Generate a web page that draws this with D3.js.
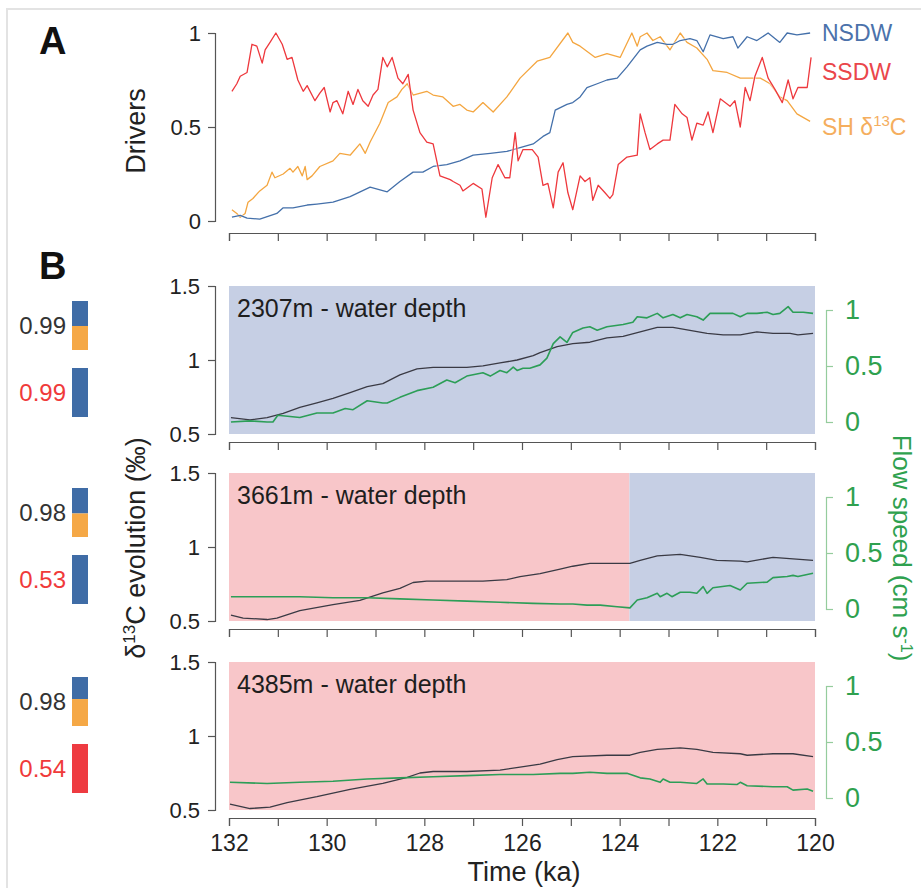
<!DOCTYPE html>
<html><head><meta charset="utf-8">
<script src="https://cdn.jsdelivr.net/npm/d3@7"></script>
<style>
body{margin:0;background:#fff;}
svg text{font-family:"Liberation Sans",Arial,Helvetica,sans-serif;}
</style>
</head><body>
<svg id="c" width="921" height="888"></svg>
<script>
// ---------------- DATA ----------------
const xTickValues = [132,131,130,129,128,127,126,125,124,123,122,121,120];
const xTickLabels = [132,130,128,126,124,122,120];
const driverTicks = [0,0.5,1];
const d13cTicks = [0.5,1,1.5];
const flowTicks = [0,0.5,1];

// Panel A drivers: [age ka, normalised value]
const nsdw = [[131.94,0.02],[131.77,0.03],[131.63,0.015],[131.37,0.01],[131.02,0.04],[130.89,0.07],[130.69,0.07],[130.40,0.085],[130.20,0.09],[129.87,0.10],[129.52,0.13],[129.11,0.18],[128.76,0.155],[128.50,0.21],[128.23,0.26],[128.03,0.26],[127.82,0.29],[127.54,0.30],[127.27,0.32],[127.00,0.35],[126.65,0.36],[126.31,0.37],[126.04,0.39],[125.77,0.41],[125.57,0.45],[125.43,0.47],[125.32,0.59],[125.08,0.62],[124.96,0.63],[124.81,0.66],[124.67,0.71],[124.46,0.73],[124.26,0.75],[124.05,0.76],[123.85,0.82],[123.58,0.91],[123.44,0.93],[123.23,0.95],[123.03,0.94],[122.91,0.94],[122.76,0.96],[122.56,0.97],[122.42,0.96],[122.29,0.90],[122.15,0.99],[121.88,0.97],[121.68,0.98],[121.58,0.92],[121.39,0.98],[121.19,0.96],[120.96,1.00],[120.72,0.95],[120.57,1.00],[120.37,0.99],[120.10,1.00]];
const ssdw = [[131.94,0.69],[131.84,0.73],[131.77,0.77],[131.63,0.79],[131.53,0.94],[131.43,0.93],[131.32,0.84],[131.26,0.91],[131.16,0.95],[131.04,1.00],[130.91,0.94],[130.81,0.86],[130.71,0.87],[130.59,0.75],[130.48,0.69],[130.40,0.72],[130.24,0.64],[130.14,0.68],[130.05,0.71],[129.93,0.58],[129.87,0.63],[129.79,0.64],[129.67,0.57],[129.56,0.69],[129.46,0.62],[129.36,0.70],[129.26,0.64],[129.15,0.61],[129.05,0.67],[128.95,0.70],[128.85,0.87],[128.76,0.82],[128.66,0.87],[128.54,0.76],[128.44,0.73],[128.33,0.78],[128.23,0.59],[128.09,0.47],[127.95,0.42],[127.82,0.41],[127.68,0.24],[127.47,0.22],[127.41,0.21],[127.27,0.19],[127.21,0.16],[127.00,0.20],[126.82,0.17],[126.74,0.02],[126.61,0.23],[126.49,0.30],[126.35,0.23],[126.25,0.23],[126.14,0.47],[126.08,0.32],[125.98,0.38],[125.79,0.38],[125.67,0.34],[125.57,0.19],[125.47,0.20],[125.36,0.07],[125.26,0.26],[125.16,0.31],[125.06,0.15],[124.96,0.06],[124.81,0.24],[124.71,0.21],[124.61,0.23],[124.55,0.11],[124.44,0.19],[124.30,0.15],[124.20,0.12],[124.14,0.14],[124.03,0.30],[123.85,0.34],[123.64,0.35],[123.58,0.57],[123.48,0.47],[123.38,0.38],[123.23,0.41],[123.11,0.43],[122.97,0.43],[122.87,0.62],[122.72,0.57],[122.62,0.55],[122.52,0.43],[122.42,0.52],[122.29,0.51],[122.19,0.58],[122.09,0.47],[121.94,0.65],[121.84,0.63],[121.74,0.61],[121.64,0.64],[121.53,0.50],[121.43,0.71],[121.33,0.64],[121.23,0.77],[121.08,0.87],[120.96,0.76],[120.82,0.70],[120.67,0.63],[120.55,0.75],[120.45,0.65],[120.35,0.71],[120.16,0.71],[120.08,0.87]];
const shd13c = [[131.94,0.06],[131.84,0.04],[131.77,0.02],[131.67,0.04],[131.61,0.10],[131.51,0.12],[131.37,0.16],[131.22,0.19],[131.12,0.26],[131.06,0.23],[130.89,0.25],[130.75,0.28],[130.69,0.26],[130.59,0.29],[130.50,0.24],[130.44,0.29],[130.40,0.22],[130.30,0.24],[130.14,0.29],[129.87,0.32],[129.73,0.36],[129.52,0.35],[129.32,0.41],[129.21,0.36],[129.11,0.42],[128.91,0.52],[128.74,0.63],[128.56,0.66],[128.46,0.70],[128.35,0.73],[128.23,0.67],[127.95,0.69],[127.82,0.67],[127.62,0.66],[127.41,0.61],[127.27,0.62],[127.13,0.59],[127.00,0.58],[126.80,0.63],[126.59,0.58],[126.31,0.66],[126.04,0.76],[125.69,0.85],[125.43,0.87],[125.06,1.00],[124.96,0.95],[124.81,0.93],[124.50,0.87],[124.26,0.89],[123.99,0.87],[123.75,1.00],[123.64,0.93],[123.58,0.98],[123.44,1.00],[123.32,0.96],[123.17,0.98],[122.97,0.91],[122.76,1.00],[122.62,0.95],[122.42,0.92],[122.21,0.86],[122.09,0.80],[121.80,0.79],[121.53,0.76],[121.12,0.76],[120.92,0.73],[120.72,0.66],[120.57,0.64],[120.37,0.57],[120.10,0.53]];
const driverNames = ["NSDW","SSDW","SH δ13C"];

// Panel B: site labels, δ13C evolution [age, ‰], flow speed [age, cm/s]
const siteLabels = ["2307m - water depth","3661m - water depth","4385m - water depth"];
const d13c2307 = [[131.96,0.61],[131.57,0.595],[131.22,0.61],[130.89,0.64],[130.55,0.68],[130.20,0.71],[129.87,0.74],[129.52,0.78],[129.17,0.82],[128.85,0.84],[128.50,0.90],[128.15,0.94],[127.82,0.95],[127.47,0.95],[127.13,0.95],[126.80,0.96],[126.45,0.98],[126.10,1.00],[125.77,1.03],[125.63,1.05],[125.28,1.09],[124.96,1.11],[124.61,1.12],[124.26,1.15],[123.93,1.16],[123.58,1.19],[123.23,1.22],[122.91,1.22],[122.56,1.20],[122.21,1.18],[121.88,1.17],[121.53,1.17],[121.19,1.19],[120.86,1.18],[120.51,1.18],[120.35,1.17],[120.04,1.18]];
const flow2307 = [[131.96,0.00],[131.57,0.01],[131.22,0.00],[131.10,0.00],[131.00,0.06],[130.55,0.04],[130.20,0.08],[129.87,0.08],[129.62,0.12],[129.46,0.11],[129.17,0.19],[128.85,0.17],[128.76,0.17],[128.50,0.22],[128.15,0.28],[127.82,0.31],[127.54,0.375],[127.37,0.35],[127.13,0.41],[126.80,0.44],[126.65,0.41],[126.45,0.46],[126.31,0.44],[126.18,0.49],[126.10,0.46],[125.98,0.48],[125.84,0.48],[125.63,0.51],[125.49,0.57],[125.36,0.70],[125.22,0.76],[125.08,0.71],[124.96,0.80],[124.75,0.84],[124.61,0.85],[124.46,0.82],[124.26,0.85],[123.93,0.87],[123.73,0.89],[123.64,0.94],[123.44,0.93],[123.23,0.97],[123.11,0.93],[122.91,0.96],[122.76,0.93],[122.62,0.96],[122.42,0.94],[122.29,0.91],[122.15,0.97],[121.88,0.97],[121.68,0.97],[121.53,0.94],[121.39,0.97],[121.19,0.97],[120.98,0.98],[120.86,0.96],[120.72,0.97],[120.55,1.03],[120.45,0.98],[120.24,0.98],[120.04,0.97]];
const d13c3661 = [[131.96,0.54],[131.71,0.52],[131.22,0.51],[131.02,0.52],[130.55,0.57],[129.87,0.61],[129.32,0.64],[128.85,0.69],[128.50,0.72],[128.23,0.76],[127.95,0.77],[127.47,0.77],[126.80,0.77],[126.31,0.78],[126.04,0.80],[125.63,0.82],[125.22,0.85],[124.96,0.87],[124.61,0.89],[124.26,0.89],[123.79,0.89],[123.58,0.91],[123.23,0.94],[122.76,0.95],[122.35,0.93],[122.01,0.91],[121.53,0.905],[121.39,0.90],[120.86,0.93],[120.45,0.92],[120.04,0.91]];
const flow3661 = [[131.96,0.11],[131.22,0.11],[130.55,0.11],[129.87,0.10],[129.17,0.10],[128.50,0.09],[127.82,0.08],[127.13,0.07],[126.45,0.06],[125.77,0.05],[125.22,0.045],[124.96,0.045],[124.67,0.035],[124.40,0.035],[124.05,0.02],[123.79,0.01],[123.64,0.08],[123.44,0.10],[123.23,0.14],[123.17,0.11],[123.03,0.14],[122.93,0.11],[122.76,0.15],[122.56,0.15],[122.42,0.14],[122.29,0.20],[122.21,0.14],[122.09,0.19],[121.74,0.21],[121.53,0.17],[121.39,0.23],[120.98,0.24],[120.86,0.28],[120.57,0.29],[120.45,0.30],[120.35,0.29],[120.04,0.32]];
const d13c4385 = [[131.98,0.54],[131.57,0.51],[131.16,0.52],[130.81,0.55],[130.20,0.59],[129.52,0.64],[128.85,0.68],[128.35,0.72],[128.09,0.75],[127.82,0.76],[127.13,0.76],[126.45,0.77],[126.04,0.79],[125.63,0.81],[125.28,0.84],[124.96,0.86],[124.26,0.87],[123.79,0.87],[123.58,0.89],[123.23,0.91],[122.76,0.92],[122.42,0.91],[122.09,0.89],[121.53,0.88],[121.39,0.87],[120.86,0.88],[120.45,0.88],[120.04,0.86]];
const flow4385 = [[131.98,0.14],[131.22,0.13],[130.55,0.14],[129.87,0.15],[129.17,0.17],[128.50,0.18],[127.82,0.19],[127.13,0.20],[126.45,0.21],[125.77,0.21],[125.22,0.22],[124.96,0.22],[124.61,0.23],[124.26,0.22],[123.85,0.22],[123.58,0.18],[123.38,0.17],[123.17,0.14],[123.11,0.17],[122.97,0.14],[122.76,0.14],[122.42,0.13],[122.29,0.17],[122.21,0.125],[121.88,0.125],[121.60,0.12],[121.53,0.14],[121.39,0.11],[120.86,0.10],[120.57,0.10],[120.45,0.07],[120.16,0.08],[120.04,0.06]];

// dominant water mass periods per site: [start age, end age, mass]
const regimes2307 = [[132,120,"N"]];
const regimes3661 = [[132,123.8,"S"],[123.8,120,"N"]];
const regimes4385 = [[132,120,"S"]];

// correlation scores and contribution shares per site
const scoreTop = ["0.99","0.98","0.98"];
const scoreBottom = ["0.99","0.53","0.54"];
const shareNSDW = [0.51,0.52,0.45];
const shareSH = [0.49,0.48,0.55];
const bottomBarMass = ["N","N","S"];

// ---------------- DRAWING ----------------
const C = {N:"#3f6ca6", S:"#ee3b41", H:"#f5a846",
           bgN:"#c6cfe4", bgS:"#f8c6c9",
           nsdw:"#4470aa", ssdw:"#ee383d", sh:"#f4a640",
           d13c:"#3a3a44", flow:"#2c9e57", flowAxis:"#95cc9d", flowText:"#2fa14f",
           axis:"#555", text:"#222"};
const svg = d3.select("#c");
const x = d3.scaleLinear().domain([132,120]).range([229,815]);

// outer frame
svg.append("rect").attr("x",7).attr("y",9).attr("width",1000).attr("height",1000)
  .attr("fill","none").attr("stroke","#e3e3e3").attr("stroke-width",2);

function styleAxis(g, color, fs, textColor){
  g.selectAll("path,line").attr("stroke",color).attr("stroke-width",1.2);
  g.selectAll("text").attr("font-size",fs).attr("fill",textColor||C.text)
   .attr("font-family","'Liberation Sans',Arial,sans-serif");
}

// ===== Panel A =====
const yA = d3.scaleLinear().domain([0,1]).range([221,33]);
svg.append("text").attr("x",39).attr("y",54).attr("font-size",38).attr("font-weight","bold").attr("fill","#111").text("A");
const axA = svg.append("g").attr("transform","translate(215,0)")
  .call(d3.axisLeft(yA).tickValues(driverTicks).tickFormat(d=>String(d)).tickSize(7).tickSizeOuter(7).tickPadding(7));
styleAxis(axA, C.axis, 22);
const axAx = svg.append("g").attr("transform","translate(0,233)")
  .call(d3.axisBottom(x).tickValues(xTickValues).tickFormat("").tickSize(8).tickSizeOuter(8));
styleAxis(axAx, C.axis, 21);
svg.append("text").attr("transform","translate(145,131) rotate(-90)").attr("text-anchor","middle")
  .attr("font-size",27).attr("fill",C.text).text("Drivers");

const lineA = d3.line().x(d=>x(d[0])).y(d=>yA(d[1]));
[[shd13c,C.sh],[nsdw,C.nsdw],[ssdw,C.ssdw]].forEach(([data,col])=>{
  svg.append("path").datum(data).attr("d",lineA).attr("fill","none").attr("stroke","#fff")
    .attr("stroke-width",3).attr("stroke-opacity",0.5).attr("stroke-linejoin","round");
  svg.append("path").datum(data).attr("d",lineA).attr("fill","none").attr("stroke",col)
    .attr("stroke-width",1.3).attr("stroke-linejoin","round");
});
// legend labels
svg.append("text").attr("x",822).attr("y",41).attr("font-size",23).attr("fill","#4b72ab").text(driverNames[0]);
svg.append("text").attr("x",822).attr("y",80).attr("font-size",23).attr("fill","#ea464b").text(driverNames[1]);
const shLab = svg.append("text").attr("x",822).attr("y",135).attr("font-size",23).attr("fill","#f5ae5e");
shLab.append("tspan").text("SH δ");
shLab.append("tspan").attr("font-size",15).attr("dy",-9).text("13");
shLab.append("tspan").attr("dy",9).text("C");

// ===== Panel B =====
svg.append("text").attr("x",39).attr("y",279).attr("font-size",38).attr("font-weight","bold").attr("fill","#111").text("B");
const tops = [286,473,662];
const d13cSets = [d13c2307,d13c3661,d13c4385];
const flowSets = [flow2307,flow3661,flow4385];
const regimeSets = [regimes2307,regimes3661,regimes4385];

tops.forEach((T,i)=>{
  const yL = d3.scaleLinear().domain([0.5,1.5]).range([T+148,T]);
  const yR = d3.scaleLinear().domain([0,1]).range([T+136,T+24]);
  // background regimes
  regimeSets[i].forEach(r=>{
    svg.append("rect").attr("x",x(r[0])).attr("y",yL(1.5))
      .attr("width",x(r[1])-x(r[0])).attr("height",yL(0.5)-yL(1.5))
      .attr("fill",r[2]==="N"?C.bgN:C.bgS);
  });
  // left axis
  const gl = svg.append("g").attr("transform","translate(215,0)")
    .call(d3.axisLeft(yL).tickValues(d13cTicks).tickFormat(d=>String(d)).tickSize(7).tickSizeOuter(7).tickPadding(8));
  styleAxis(gl, C.axis, 22);
  // right axis
  const gr = svg.append("g").attr("transform","translate(826,0)")
    .call(d3.axisRight(yR).tickValues(flowTicks).tickFormat(d=>String(d)).tickSize(7).tickSizeOuter(7).tickPadding(12));
  styleAxis(gr, C.flowAxis, 27, C.flowText);
  // bottom axis
  const gx = svg.append("g").attr("transform",`translate(0,${T+156})`)
    .call(d3.axisBottom(x).tickValues(xTickValues)
      .tickFormat(d=> (i===2 && xTickLabels.includes(d)) ? String(d) : "")
      .tickSize(8).tickSizeOuter(8).tickPadding(9));
  styleAxis(gx, C.axis, 23);
  // lines
  svg.append("path").datum(d13cSets[i]).attr("d",d3.line().x(d=>x(d[0])).y(d=>yL(d[1])))
    .attr("fill","none").attr("stroke",C.d13c).attr("stroke-width",1.3).attr("stroke-linejoin","round");
  svg.append("path").datum(flowSets[i]).attr("d",d3.line().x(d=>x(d[0])).y(d=>yR(d[1])))
    .attr("fill","none").attr("stroke",C.flow).attr("stroke-width",1.6).attr("stroke-linejoin","round");
  // site label
  svg.append("text").attr("x",237).attr("y",T+31).attr("font-size",25).attr("fill","#1e1e1e").text(siteLabels[i]);
  // contribution bars
  const bx = 72, bw = 16, bh = 49;
  const b1 = T+15, b2 = T+82;
  const hN = bh*shareNSDW[i]/(shareNSDW[i]+shareSH[i]);
  svg.append("rect").attr("x",bx).attr("y",b1).attr("width",bw).attr("height",hN).attr("fill",C.N);
  svg.append("rect").attr("x",bx).attr("y",b1+hN).attr("width",bw).attr("height",bh-hN).attr("fill",C.H);
  svg.append("rect").attr("x",bx).attr("y",b2).attr("width",bw).attr("height",bh).attr("fill",C[bottomBarMass[i]]);
  svg.append("text").attr("x",66).attr("y",b1+bh/2).attr("dy","0.36em").attr("text-anchor","end")
    .attr("font-size",24).attr("fill","#333").text(scoreTop[i]);
  svg.append("text").attr("x",66).attr("y",b2+bh/2).attr("dy","0.36em").attr("text-anchor","end")
    .attr("font-size",24).attr("fill","#f03a3a").text(scoreBottom[i]);
});

// axis titles
const yt = svg.append("text").attr("transform","translate(145,548) rotate(-90)").attr("text-anchor","middle")
  .attr("font-size",27).attr("fill",C.text);
yt.append("tspan").text("δ");
yt.append("tspan").attr("font-size",17).attr("dy",-10).text("13");
yt.append("tspan").attr("dy",10).text("C evolution (‰)");

const ft = svg.append("text").attr("transform","translate(893,548) rotate(90)").attr("text-anchor","middle")
  .attr("font-size",26).attr("fill",C.flowText);
ft.append("tspan").text("Flow speed (cm s");
ft.append("tspan").attr("font-size",16).attr("dy",-8).text("-1");
ft.append("tspan").attr("dy",8).text(")");

svg.append("text").attr("x",524).attr("y",881).attr("text-anchor","middle").attr("font-size",27)
  .attr("fill",C.text).text("Time (ka)");
</script>
</body></html>
